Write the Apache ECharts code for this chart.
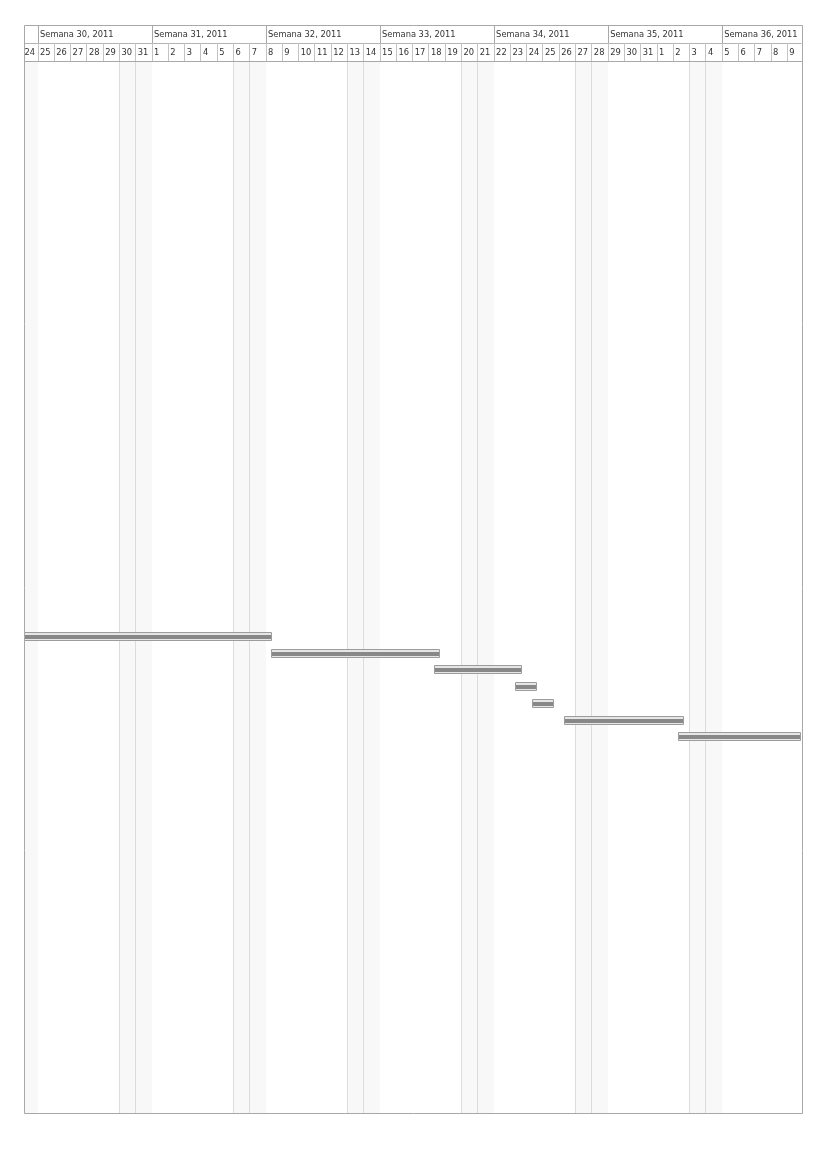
<!DOCTYPE html>
<html><head><meta charset="utf-8">
<script src="https://cdn.jsdelivr.net/npm/echarts@6/dist/echarts.min.js"></script>
<style>html,body{margin:0;padding:0;background:#fff}#c{width:826px;height:1169px}</style>
</head><body><div id="c"></div>
<script>
// ---- data ----
const weekLabels = ['', 'Semana 30, 2011', 'Semana 31, 2011', 'Semana 32, 2011', 'Semana 33, 2011', 'Semana 34, 2011', 'Semana 35, 2011', 'Semana 36, 2011'];
const weekStarts = ['2011-07-18', '2011-07-25', '2011-08-01', '2011-08-08', '2011-08-15', '2011-08-22', '2011-08-29', '2011-09-05'];
const firstDay = '2011-07-24';
const dayLabels = ['24','25','26','27','28','29','30','31',
  '1','2','3','4','5','6','7','8','9','10','11','12','13','14','15','16','17','18','19','20','21','22','23','24','25','26','27','28','29','30','31',
  '1','2','3','4','5','6','7','8','9'];
const taskRows  = [34, 35, 36, 37, 38, 39, 40];
const taskStart = ['2011-07-20 08:00', '2011-08-08 08:00', '2011-08-18 08:00', '2011-08-23 08:00', '2011-08-24 08:00', '2011-08-26 08:00', '2011-09-02 08:00'];
const taskEnd   = ['2011-08-08 09:00', '2011-08-18 17:00', '2011-08-23 17:00', '2011-08-24 17:00', '2011-08-25 17:00', '2011-09-02 17:00', '2011-09-14 17:00'];
const rowCount = 63;
const viewStart = '2011-07-24 03:20';
const viewEnd   = '2011-09-09 20:53';

// ---- helpers ----
function ts(s) {
  const parts = s.split(' ');
  const d = parts[0].split('-').map(Number);
  const t = (parts[1] || '00:00').split(':').map(Number);
  return new Date(d[0], d[1] - 1, d[2], t[0], t[1]).getTime();
}
const DAY = 86400000;
const dayData = dayLabels.map((lab, i) => {
  const s = ts(firstDay) + i * DAY;
  return [s, s + DAY, 1];
});
const weekData = weekLabels.map((lab, i) => {
  const s = ts(weekStarts[i]);
  return [s, s + 7 * DAY, 0];
});
const weekendData = dayData.filter(d => { const g = new Date(d[0]).getDay(); return g === 0 || g === 6; })
  .map(d => [d[0], d[1]]);
const taskData = taskRows.map((r, i) => [ts(taskStart[i]), ts(taskEnd[i]), r]);

const px = v => Math.round(v - 0.5) + 0.5;

function headerCell(labels) {
  return function (params, api) {
    const row = api.value(2);
    const cs = params.coordSys;
    const p0 = api.coord([api.value(0), row]);
    const p1 = api.coord([api.value(1), row + 1]);
    const children = [];
    const lx = px(p0[0]);
    if (p0[0] > cs.x + 1 && p0[0] < cs.x + cs.width - 1) {
      children.push({ type: 'line', shape: { x1: lx, y1: p0[1], x2: lx, y2: p1[1] },
        style: { stroke: row === 0 ? '#a8a8a8' : '#c4c4c4', lineWidth: 1 } });
    }
    if (row === 0) {
      const x0 = Math.max(p0[0], cs.x), x1 = Math.min(p1[0], cs.x + cs.width);
      children.push({ type: 'line', shape: { x1: x0, y1: px(p1[1]), x2: x1, y2: px(p1[1]) },
        style: { stroke: '#b4b4b4', lineWidth: 1 } });
    }
    const lab = labels[params.dataIndex];
    if (lab) {
      children.push({ type: 'text', style: {
        x: Math.max(p0[0] + 2, cs.x + 0.5), y: (p0[1] + p1[1]) / 2 + 1,
        text: lab, fill: '#333', font: '8.3px "DejaVu Sans"',
        textAlign: 'left', textVerticalAlign: 'middle' } });
    }
    return { type: 'group', children };
  };
}

function weekendCell(params, api) {
  const cs = params.coordSys;
  const p0 = api.coord([api.value(0), 0]);
  const p1 = api.coord([api.value(1), rowCount]);
  const r = echarts.graphic.clipRectByRect({ x: p0[0], y: p0[1], width: p1[0] - p0[0], height: p1[1] - p0[1] }, cs);
  const children = [];
  if (r) children.push({ type: 'rect', shape: r, style: { fill: '#f8f8f8' } });
  if (p0[0] > cs.x + 1) {
    const lx = px(p0[0]);
    children.push({ type: 'line', shape: { x1: lx, y1: cs.y, x2: lx, y2: cs.y + cs.height },
      style: { stroke: '#dcdcdc', lineWidth: 1 } });
  }
  return { type: 'group', children };
}

function taskBar(params, api) {
  const cs = params.coordSys;
  const row = api.value(2);
  const p0 = api.coord([api.value(0), row + 0.5]);
  const p1 = api.coord([api.value(1), row + 0.5]);
  const h = 8;
  const cy = Math.round(p0[1]);
  const r = echarts.graphic.clipRectByRect({ x: p0[0], y: cy - h / 2, width: p1[0] - p0[0], height: h }, cs);
  if (!r) return;
  const x0 = px(r.x), w = Math.round(r.width) - 1;
  return { type: 'group', children: [
    { type: 'rect', shape: { x: x0, y: cy - 4.5, width: w, height: h },
      style: { fill: '#e6e6e6', stroke: '#9c9c9c', lineWidth: 1 } },
    { type: 'rect', shape: { x: x0 + 0.5, y: cy - 2, width: w - 1, height: 4 },
      style: { fill: '#888888' } }
  ]};
}

function frame(params, api) {
  const cs = params.coordSys;
  return { type: 'rect', shape: { x: px(cs.x), y: px(cs.y), width: Math.round(cs.width), height: Math.round(cs.height) },
    style: { fill: 'none', stroke: '#a8a8a8', lineWidth: 1 } };
}

const xMin = ts(viewStart), xMax = ts(viewEnd);
const chart = echarts.init(document.getElementById('c'), null, { renderer: 'canvas' });
chart.setOption({
  animation: false,
  backgroundColor: '#fff',
  grid: [
    { left: 24, right: 24.5, top: 25, height: 36, show: false },
    { left: 24, right: 24.5, top: 61, bottom: 56, show: false }
  ],
  xAxis: [
    { type: 'time', gridIndex: 0, min: xMin, max: xMax, show: false },
    { type: 'time', gridIndex: 1, min: xMin, max: xMax, show: false }
  ],
  yAxis: [
    { type: 'value', gridIndex: 0, min: 0, max: 2, inverse: true, show: false },
    { type: 'value', gridIndex: 1, min: 0, max: rowCount, inverse: true, show: false }
  ],
  series: [
    { type: 'custom', xAxisIndex: 1, yAxisIndex: 1, renderItem: weekendCell, data: weekendData, encode: { x: [0, 1] }, z: 1, silent: true },
    { type: 'custom', xAxisIndex: 1, yAxisIndex: 1, renderItem: taskBar, data: taskData, encode: { x: [0, 1], y: 2 }, z: 3, silent: true },
    { type: 'custom', xAxisIndex: 0, yAxisIndex: 0, renderItem: headerCell(weekLabels), data: weekData, encode: { x: [0, 1] }, z: 3, silent: true },
    { type: 'custom', xAxisIndex: 0, yAxisIndex: 0, renderItem: headerCell(dayLabels), data: dayData, encode: { x: [0, 1] }, z: 3, silent: true },
    { type: 'custom', xAxisIndex: 0, yAxisIndex: 0, renderItem: frame, data: [[xMin, 0]], z: 5, silent: true },
    { type: 'custom', xAxisIndex: 1, yAxisIndex: 1, renderItem: frame, data: [[xMin, 0]], z: 5, silent: true }
  ]
});
</script>
</body></html>
